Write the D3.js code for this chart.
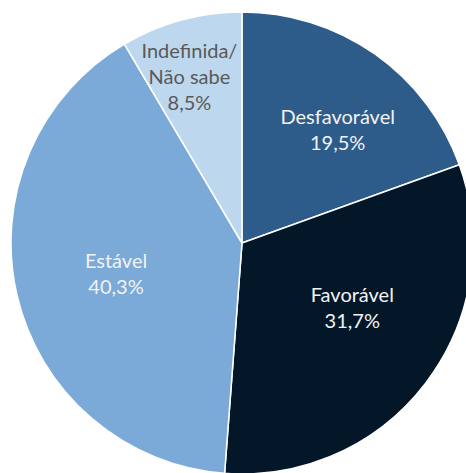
<!DOCTYPE html>
<html>
<head>
<meta charset="utf-8">
<script src="https://cdn.jsdelivr.net/npm/d3@7"></script>
<style>
  html, body { margin: 0; padding: 0; background: #ffffff; }
  svg { display: block; }
</style>
</head>
<body>
<svg id="chart" width="466" height="473"></svg>
<script>
// ---- Data ----
const categories = ["Desfavorável", "Favorável", "Estável", "Indefinida/\nNão sabe"];
const values = [19.5, 31.7, 40.3, 8.5];
const valueLabels = ["19,5%", "31,7%", "40,3%", "8,5%"];

// ---- Styles ----
const colors = ["#2E5C8A", "#031729", "#7CAAD8", "#BDD7EE"];
const textColors = ["#F2F2F2", "#F2F2F2", "#F2F2F2", "#595959"];
const labelShift = [[16, 0], [0, -19], [9, -1], [-16, -32]];

const svg = d3.select("#chart");
const cx = 242, cy = 243, radius = 231;
const g = svg.append("g").attr("transform", `translate(${cx},${cy})`);

const table = categories.map((c, i) => ({ name: c, value: values[i], label: valueLabels[i], i }));

const pie = d3.pie().sort(null).value(d => d.value);
const arc = d3.arc().innerRadius(0).outerRadius(radius);
const labelArc = d3.arc().innerRadius(radius * 0.6).outerRadius(radius * 0.6);

const arcs = pie(table);

g.selectAll("path.slice")
  .data(arcs)
  .enter().append("path")
  .attr("class", "slice")
  .attr("d", arc)
  .attr("fill", d => colors[d.data.i])
  .attr("stroke", "#ffffff")
  .attr("stroke-width", 1.5)
  .attr("stroke-linejoin", "round");

const lineH = 26;
g.selectAll("text.lbl")
  .data(arcs)
  .enter().append("text")
  .attr("class", "lbl")
  .attr("font-family", "Lato, 'Noto Sans', sans-serif")
  .attr("font-size", 20)
  .attr("text-anchor", "middle")
  .attr("fill", d => textColors[d.data.i])
  .each(function(d) {
    const [x0, y0] = labelArc.centroid(d);
    const x = x0 + labelShift[d.data.i][0];
    const y = y0 + labelShift[d.data.i][1];
    const lines = d.data.name.split("\n").concat([d.data.label]);
    const n = lines.length;
    const firstBase = y - (n - 1) * lineH / 2 + 7;
    const t = d3.select(this);
    lines.forEach((ln, k) => {
      t.append("tspan").attr("x", x).attr("y", firstBase + k * lineH).text(ln);
    });
  });
</script>
</body>
</html>
